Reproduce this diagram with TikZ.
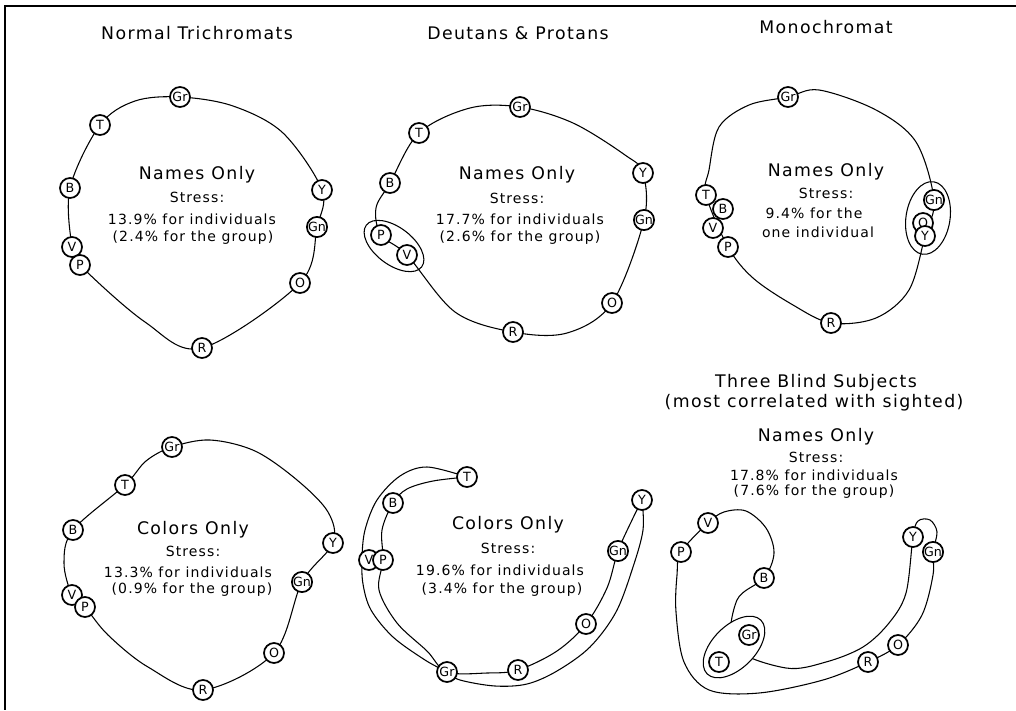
\documentclass[tikz,border=0pt]{standalone}
\usepackage{fontspec}
\newfontfamily\lab{DejaVu Sans}[LetterSpace=8]
\newfontfamily\circfont{DejaVu Sans}
\usetikzlibrary{backgrounds,shapes.geometric}

\tikzset{
  cnode/.style={circle, draw, line width=1.3pt, fill=white, inner sep=0pt,
    minimum size=15pt, font=\circfont\fontsize{9.5}{10}\selectfont},
  loopline/.style={line width=0.8pt},
  ttl/.style={font=\lab\fontsize{13}{14}\selectfont, inner sep=0pt},
  big/.style={font=\lab\fontsize{13}{14}\selectfont, inner sep=0pt},
  small/.style={font=\lab\fontsize{10.5}{12}\selectfont, inner sep=0pt},
  grp/.style={draw, ellipse, line width=0.8pt, inner sep=0pt},
  frame/.style={line width=2pt},
}

\begin{document}
\begin{tikzpicture}[x=0.75pt, y=-0.75pt]
\useasboundingbox (0,0) rectangle (1016,710);

% outer frame (top and left edges)
\coordinate (fr1) at (1016,6);
\coordinate (fr2) at (5,6);
\coordinate (fr3) at (5,710);
\draw[frame] (fr1) -- (fr2) -- (fr3);

% ---------- titles ----------
\node[ttl] (t1) at (197,33) {Normal Trichromats};
\node[ttl] (t2) at (518,33) {Deutans \& Protans};
\node[ttl] (t3) at (826,27) {Monochromat};
\node[ttl] (t4) at (816,383) {Three Blind Subjects};
\node[ttl] (t5) at (814,403) {(most correlated with sighted)};

% ---------- panel 1: normal trichromats, names ----------
\node[big]   (a1) at (197,175) {Names Only};
\node[small] (a2) at (197,197) {Stress:};
\node[small] (a3) at (192,219) {13.9\% for individuals};
\node[small] (a4) at (193,238) {(2.4\% for the group)};
\node[cnode] (p1Gr) at (180,97)  {Gr};
\node[cnode] (p1T)  at (100,125) {T};
\node[cnode] (p1B)  at (70,188)  {B};
\node[cnode] (p1V)  at (72,247)  {V};
\node[cnode] (p1P)  at (80,265)  {P};
\node[cnode] (p1R)  at (202,348) {R};
\node[cnode] (p1O)  at (300,283) {O};
\node[cnode] (p1Gn) at (317,227) {Gn};
\node[cnode] (p1Y)  at (322,190) {Y};
\begin{scope}[on background layer]
\draw[loopline] plot[smooth cycle, tension=0.55] coordinates {
  (p1Gr) (233,106) (283,133) (p1Y) (p1Gn) (p1O) (p1R) (145,322)
  (p1P) (p1V) (p1B) (p1T) (135,101)};
\end{scope}

% ---------- panel 2: deutans & protans, names ----------
\node[big]   (b1) at (517,175) {Names Only};
\node[small] (b2) at (517,198) {Stress:};
\node[small] (b3) at (520,219) {17.7\% for individuals};
\node[small] (b4) at (520,238) {(2.6\% for the group)};
\node[grp, minimum width=52pt, minimum height=28pt, rotate=-37] (e2) at (394,246) {};
\node[cnode] (p2Gr) at (520,107) {Gr};
\node[cnode] (p2T)  at (419,133) {T};
\node[cnode] (p2B)  at (390,183) {B};
\node[cnode] (p2P)  at (381,235) {P};
\node[cnode] (p2V)  at (407,255) {V};
\node[cnode] (p2R)  at (513,332) {R};
\node[cnode] (p2O)  at (612,303) {O};
\node[cnode] (p2Gn) at (644,220) {Gn};
\node[cnode] (p2Y)  at (643,173) {Y};
\begin{scope}[on background layer]
\draw[loopline] plot[smooth cycle, tension=0.55] coordinates {
  (p2Gr) (573,123) (625,155) (p2Y) (p2Gn) (p2O) (567,333) (p2R)
  (455,312) (p2V) (p2P) (376,208) (p2B) (p2T) (470,108)};
\end{scope}

% ---------- panel 3: monochromat, names ----------
\node[big]   (c1) at (826,172) {Names Only};
\node[small] (c2) at (826,193) {Stress:};
\node[small] (c3) at (814,213) {9.4\% for the};
\node[small] (c4) at (818,232) {one individual};
\node[grp, minimum width=33pt, minimum height=55pt, rotate=-9] (e3) at (928,218) {};
\node[cnode] (p3Gr) at (788,97)  {Gr};
\node[cnode] (p3T)  at (706,195) {T};
\node[cnode] (p3B)  at (723,209) {B};
\node[cnode] (p3V)  at (713,228) {V};
\node[cnode] (p3P)  at (728,247) {P};
\node[cnode] (p3R)  at (831,323) {R};
\node[cnode] (p3Gn) at (934,200) {Gn};
\node[cnode] (p3O)  at (923,223) {O};
\node[cnode] (p3Y)  at (925,236) {Y};
\begin{scope}[on background layer]
\draw[loopline] plot[smooth cycle, tension=0.55] coordinates {
  (p3Gr) (819,90) (876,110) (916,142) (p3Gn) (p3Y) (909,290) (876,318)
  (p3R) (793,305) (753,278) (p3P) (p3T) (709,170) (719,127) (749,105)};
\end{scope}

% ---------- panel 4: normal trichromats, colors ----------
\node[big]   (d1) at (193,530) {Colors Only};
\node[small] (d2) at (193,551) {Stress:};
\node[small] (d3) at (188,572) {13.3\% for individuals};
\node[small] (d4) at (192,590) {(0.9\% for the group)};
\node[cnode] (p4Gr) at (172,447) {Gr};
\node[cnode] (p4T)  at (125,485) {T};
\node[cnode] (p4B)  at (73,530)  {B};
\node[cnode] (p4V)  at (72,595)  {V};
\node[cnode] (p4P)  at (85,607)  {P};
\node[cnode] (p4R)  at (203,690) {R};
\node[cnode] (p4O)  at (274,653) {O};
\node[cnode] (p4Gn) at (302,582) {Gn};
\node[cnode] (p4Y)  at (333,543) {Y};
\begin{scope}[on background layer]
\draw[loopline] plot[smooth cycle, tension=0.55] coordinates {
  (p4Gr) (210,440) (255,451) (297,480) (328,512) (p4Y) (p4Gn) (p4O)
  (p4R) (148,667) (108,635) (p4P) (p4V) (64,563) (p4B) (p4T) (146,461)};
\end{scope}

% ---------- panel 5: deutans & protans, colors ----------
\node[big]   (f1) at (508,525) {Colors Only};
\node[small] (f2) at (508,548) {Stress:};
\node[small] (f3) at (500,570) {19.6\% for individuals};
\node[small] (f4) at (502,590) {(3.4\% for the group)};
\node[cnode] (p5T)  at (467,477) {T};
\node[cnode] (p5B)  at (393,503) {B};
\node[cnode] (p5V)  at (369,560) {V};
\node[cnode] (p5P)  at (383,560) {P};
\node[cnode] (p5Gr) at (447,672) {Gr};
\node[cnode] (p5R)  at (518,670) {R};
\node[cnode] (p5O)  at (586,624) {O};
\node[cnode] (p5Gn) at (618,551) {Gn};
\node[cnode] (p5Y)  at (642,500) {Y};
\begin{scope}[on background layer]
% inner run
\draw[loopline] plot[smooth, tension=0.55] coordinates {
  (p5T) (433,481) (407,489) (p5B) (382,530) (p5P) (379,590) (397,623)
  (427,651) (p5Gr) (487,673) (p5R) (557,651) (p5O) (607,588) (p5Gn)
  (633,518) (p5Y)};
% outer run
\draw[loopline] plot[smooth, tension=0.55] coordinates {
  (p5T) (427,467) (400,476) (377,500) (365,530) (362,558) (363,584)
  (371,610) (393,637) (425,660) (p5Gr) (460,680) (495,686) (527,684)
  (557,671) (590,647) (616,612) (633,567) (643,530) (p5Y)};
\end{scope}

% ---------- panel 6: three blind subjects, names ----------
\node[big]   (g1) at (816,437) {Names Only};
\node[small] (g2) at (816,457) {Stress:};
\node[small] (g3) at (814,475) {17.8\% for individuals};
\node[small] (g4) at (814,492) {(7.6\% for the group)};
\node[grp, fill=white, minimum width=57pt, minimum height=32pt, rotate=45] (e6) at (734,647) {};
\node[cnode] (p6V)  at (708,523) {V};
\node[cnode] (p6P)  at (681,552) {P};
\node[cnode] (p6B)  at (764,578) {B};
\node[cnode] (p6Gr) at (749,635) {Gr};
\node[cnode] (p6T)  at (719,662) {T};
\node[cnode] (p6Y)  at (913,537) {Y};
\node[cnode] (p6Gn) at (933,552) {Gn};
\node[cnode] (p6O)  at (898,645) {O};
\node[cnode] (p6R)  at (868,662) {R};
\begin{scope}[on background layer]
\draw[loopline] plot[smooth cycle, tension=0.55] coordinates {
  (p6P) (p6V) (724,512) (746,511) (766,528) (774,553) (p6B) (737,600)
  (e6.center) (786,668) (826,662) (863,647) (889,623) (906,593) (p6Y)
  (918,521) (930,520) (937,532) (p6Gn) (933,575) (922,615) (p6O) (p6R)
  (823,680) (759,693) (709,690) (684,662) (676,612) (677,575)};
\end{scope}
\end{tikzpicture}
\end{document}
